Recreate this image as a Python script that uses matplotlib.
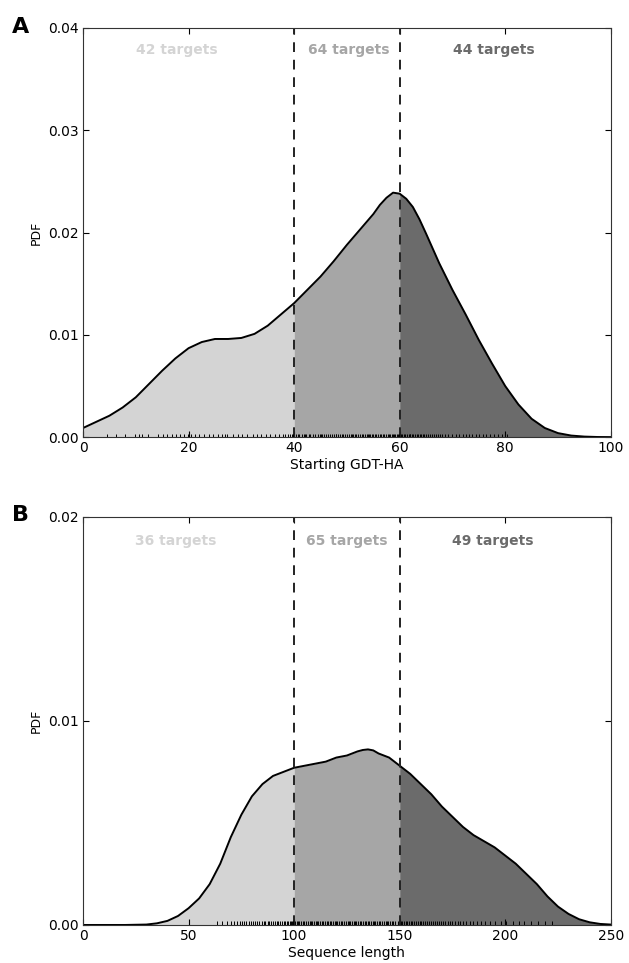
import matplotlib
matplotlib.use("Agg")
import matplotlib.pyplot as plt

# Panel A: KDE of starting GDT-HA
gdt_x = [0, 2.5, 5, 7.5, 10, 12.5, 15, 17.5, 20, 22.5, 25, 27.5, 30, 32.5, 35, 37.5,
         40, 42.5, 45, 47.5, 50, 52.5, 55, 56.25, 57.5, 58.75, 60, 61.25, 62.5, 63.75,
         65, 67.5, 70, 72.5, 75, 77.5, 80, 82.5, 85, 87.5, 90, 92.5, 95, 97.5, 100]
gdt_pdf = [0.0009, 0.0015, 0.0021, 0.0029, 0.0039, 0.0052, 0.0065, 0.0077, 0.0087,
           0.0093, 0.0096, 0.0096, 0.0097, 0.0101, 0.0109, 0.0120, 0.0131, 0.0144,
           0.0157, 0.0172, 0.0188, 0.0203, 0.0218, 0.0227, 0.0234, 0.0239, 0.0238,
           0.0233, 0.0225, 0.0213, 0.0199, 0.0170, 0.0144, 0.0120, 0.0095, 0.0072,
           0.0050, 0.0032, 0.0018, 0.0009, 0.0004, 0.00016, 0.00006, 0.00002, 0.00001]
gdt_rug = [4.6, 7.9, 9.9, 11.2, 12.4, 14.3, 16.0, 16.8, 17.6, 18.3, 19.1, 19.8, 20.5,
           21.2, 22.0, 22.9, 23.8, 24.6, 25.5, 26.4, 27.3, 28.5, 29.3, 30.2, 31.0, 32.2,
           32.9, 33.8, 34.6, 35.5, 36.4, 37.1, 37.8, 38.3, 38.8, 39.2, 39.6, 39.8, 15.2,
           26.9, 10.6, 6.2,
           40.3, 40.7, 41.0, 41.4, 41.9, 42.3, 42.8, 43.1, 43.6, 44.0, 44.5, 44.9, 45.2,
           45.6, 46.1, 46.5, 46.8, 47.2, 47.6, 47.9, 48.3, 48.6, 49.0, 49.3, 49.7, 50.1,
           50.4, 50.8, 51.1, 51.5, 51.8, 52.1, 52.5, 52.8, 53.1, 53.4, 53.8, 54.1, 54.4,
           54.7, 55.0, 55.3, 55.6, 55.9, 56.2, 56.5, 56.8, 57.1, 57.4, 57.7, 58.0, 58.2,
           58.5, 58.7, 59.0, 59.2, 59.4, 59.6, 59.8, 42.0, 45.0, 48.0, 51.0, 54.0,
           60.2, 60.5, 60.8, 61.1, 61.4, 61.7, 62.0, 62.3, 62.6, 62.9, 63.2, 63.5, 63.8,
           64.1, 64.4, 64.7, 65.0, 65.4, 65.8, 66.1, 66.5, 66.9, 67.3, 67.7, 68.1, 68.6,
           69.2, 69.9, 70.7, 71.3, 72.0, 72.6, 73.2, 73.8, 74.4, 75.0, 75.7, 76.4, 77.1,
           77.9, 78.6, 79.4, 80.3, 61.9]
gdt_cuts = [40, 60]
gdt_labels = ["42 targets", "64 targets", "44 targets"]
gdt_label_x = [17.8, 50.4, 77.8]

# Panel B: KDE of sequence length
len_x = [0, 5, 10, 15, 20, 25, 30, 35, 40, 45, 50, 55, 60, 65, 70, 75, 80, 85, 90, 95,
         100, 105, 110, 115, 120, 125, 130, 132.5, 135, 137.5, 140, 145, 150, 155, 160,
         165, 170, 175, 180, 185, 190, 195, 200, 205, 210, 215, 220, 225, 230, 235,
         240, 245, 250]
len_pdf = [0, 0, 0, 0, 0, 0.00001, 0.00002, 0.00008, 0.0002, 0.00044, 0.00082, 0.0013,
           0.0020, 0.0030, 0.0043, 0.0054, 0.0063, 0.0069, 0.0073, 0.0075, 0.0077,
           0.0078, 0.0079, 0.0080, 0.0082, 0.0083, 0.0085, 0.00857, 0.0086, 0.00855,
           0.0084, 0.0082, 0.0078, 0.0074, 0.0069, 0.0064, 0.0058, 0.0053, 0.0048,
           0.0044, 0.0041, 0.0038, 0.0034, 0.0030, 0.0025, 0.0020, 0.0014, 0.0009,
           0.00054, 0.00028, 0.00013, 0.00005, 0.00002]
len_rug = [63.5, 66.0, 68.2, 70.1, 71.5, 73.0, 74.2, 75.5, 76.4, 77.3, 78.5, 79.4, 80.3,
           81.5, 82.4, 83.3, 84.6, 85.5, 86.3, 87.4, 88.2, 89.1, 90.0, 90.8, 91.7, 92.5,
           93.3, 94.2, 95.0, 95.8, 96.6, 97.3, 98.0, 98.6, 99.2, 99.7,
           100.4, 101.3, 101.9, 102.5, 103.4, 104.2, 104.9, 105.5, 106.4, 107.3, 107.9,
           108.4, 109.4, 110.2, 110.9, 111.5, 112.4, 113.3, 113.9, 114.5, 115.4, 116.2,
           116.9, 117.4, 118.4, 119.3, 119.9, 120.5, 121.4, 122.2, 122.9, 123.5, 124.4,
           125.3, 125.9, 126.5, 127.4, 128.2, 128.9, 129.4, 130.4, 131.3, 131.9, 132.5,
           133.4, 134.2, 134.9, 135.5, 136.4, 137.3, 137.9, 138.4, 139.4, 140.2, 140.9,
           141.5, 142.4, 143.3, 143.9, 144.5, 145.4, 146.2, 146.9, 148.0, 149.3,
           150.5, 151.3, 152.0, 152.8, 153.6, 154.5, 155.3, 156.0, 156.9, 157.8, 158.6,
           159.5, 160.3, 161.2, 162.0, 163.0, 163.9, 164.8, 165.7, 166.7, 167.6, 168.5,
           169.5, 170.6, 171.6, 172.7, 173.8, 175.0, 176.2, 177.5, 178.8, 180.2, 181.6,
           183.1, 184.7, 186.4, 188.3, 190.5, 192.8, 195.2, 197.9, 200.6, 203.5, 206.3,
           209.0, 212.1, 215.4, 218.8, 222.3]
len_cuts = [100, 150]
len_labels = ["36 targets", "65 targets", "49 targets"]
len_label_x = [44, 125, 194]

shades = ["#d4d4d4", "#a6a6a6", "#6b6b6b"]


def panel(ax, xs, ys, rug, cuts, labels, label_x, xmax, ymax, yticks, xticks, xlabel, label_y):
    edges = [xs[0]] + cuts + [xs[-1]]
    for i in range(3):
        lo, hi = edges[i], edges[i + 1]
        px = [x for x in xs if lo <= x <= hi]
        py = [y for x, y in zip(xs, ys) if lo <= x <= hi]
        ax.fill_between(px, 0, py, color=shades[i], linewidth=0)
    ax.plot(xs, ys, color="black", lw=1.4, solid_joinstyle="round")
    for c in cuts:
        ax.axvline(c, color="#222222", lw=1.4, ls=(0, (5, 4)))
    ax.vlines(rug, 0, 0.009, color="black", lw=0.7, transform=ax.get_xaxis_transform())
    for t, tx, col in zip(labels, label_x, shades):
        ax.text(tx, label_y, t, color=col, fontsize=10, fontweight="bold",
                ha="center", va="center")
    ax.set_xlim(0, xmax)
    ax.set_ylim(0, ymax)
    ax.set_xticks(xticks)
    ax.set_yticks(yticks)
    ax.set_yticklabels(["%.2f" % v for v in yticks])
    ax.set_xlabel(xlabel, fontsize=10, labelpad=2)
    ax.set_ylabel("PDF", fontsize=9)
    ax.tick_params(direction="in", top=True, right=True, length=4, labelsize=10, pad=3)
    for s in ax.spines.values():
        s.set_color("#333333")


fig = plt.figure(figsize=(6.29, 9.63), dpi=100)
ax1 = fig.add_axes([0.132, 0.546, 0.839, 0.425])
ax2 = fig.add_axes([0.132, 0.0395, 0.839, 0.4240])

panel(ax1, gdt_x, gdt_pdf, gdt_rug, gdt_cuts, gdt_labels, gdt_label_x, 100, 0.04,
      [0, 0.01, 0.02, 0.03, 0.04], [0, 20, 40, 60, 80, 100], "Starting GDT-HA", 0.0378)
panel(ax2, len_x, len_pdf, len_rug, len_cuts, len_labels, len_label_x, 250, 0.02,
      [0, 0.01, 0.02], [0, 50, 100, 150, 200, 250], "Sequence length", 0.0188)

fig.text(0.033, 0.972, "A", fontsize=16, fontweight="bold", va="center", ha="center")
fig.text(0.033, 0.465, "B", fontsize=16, fontweight="bold", va="center", ha="center")

fig.savefig("out.png", dpi=100)
